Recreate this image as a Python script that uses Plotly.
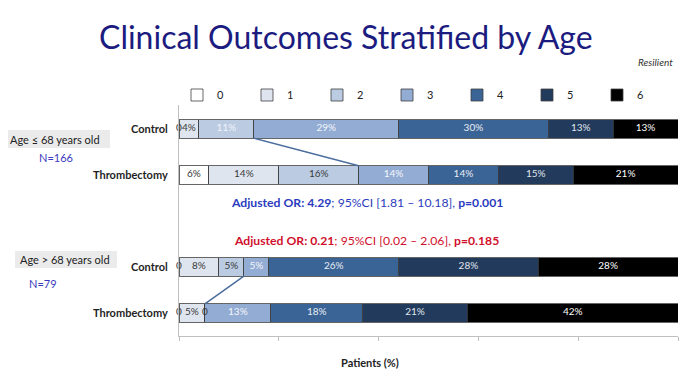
import plotly.graph_objects as go

# ---- data ----
rows = ["Control", "Thrombectomy", "Control", "Thrombectomy"]
row_pos = [0, 1, 3, 4]
mrs_levels = ["0", "1", "2", "3", "4", "5", "6"]
# percentages per mRS level, per row
ctrl_young = [0, 4, 11, 29, 30, 13, 13]
thr_young = [6, 14, 16, 14, 14, 15, 21]
ctrl_old = [0, 8, 5, 5, 26, 28, 28]
thr_old = [0, 5.2, 0, 13.2, 18.4, 21, 42.2]
labels_ctrl_young = ["0", "4%", "11%", "29%", "30%", "13%", "13%"]
labels_thr_young = ["6%", "14%", "16%", "14%", "14%", "15%", "21%"]
labels_ctrl_old = ["0", "8%", "5%", "5%", "26%", "28%", "28%"]
labels_thr_old = ["0", "5%", "0", "13%", "18%", "21%", "42%"]

data_rows = [ctrl_young, thr_young, ctrl_old, thr_old]
label_rows = [labels_ctrl_young, labels_thr_young, labels_ctrl_old, labels_thr_old]

colors = ["#ffffff", "#dfe5ef", "#bacbe2", "#93acd3", "#3b6496", "#223b5d", "#000000"]
dark_txt = "#3a3a3a"
txt_colors = [
    [dark_txt, dark_txt, "#f2f5fa", "#f5f7fb", "#e8edf5", "#e0e6ee", "#ffffff"],
    [dark_txt, dark_txt, dark_txt, "#f5f7fb", "#e8edf5", "#e0e6ee", "#ffffff"],
    [dark_txt, dark_txt, dark_txt, "#f5f7fb", "#e8edf5", "#e0e6ee", "#ffffff"],
    [dark_txt, dark_txt, dark_txt, "#f5f7fb", "#e8edf5", "#e0e6ee", "#ffffff"],
]

FONT = "Lato"
OFF = 8  # page body margin offset
PL, PR, PT, PB = 179 - OFF, 678 - OFF, 105 - OFF, 336 - OFF

fig = go.Figure()

BAR_W = 0.4
for k, lvl in enumerate(mrs_levels):
    fig.add_trace(go.Bar(
        name=lvl,
        x=[r[k] for r in data_rows],
        y=row_pos,
        orientation="h",
        width=BAR_W,
        marker=dict(color=colors[k], line=dict(color="#3f3f3f", width=0.8)),
        hoverinfo="skip",
    ))

# text labels through data coordinates (midpoints of stacked segments)
tx, ty, tt, tc = [], [], [], []
for ri, (vals, labs) in enumerate(zip(data_rows, label_rows)):
    cum = 0
    for k, v in enumerate(vals):
        tx.append(cum + v / 2)
        ty.append(row_pos[ri])
        tt.append(labs[k])
        tc.append(txt_colors[ri][k])
        cum += v
fig.add_trace(go.Scatter(
    x=tx, y=ty, text=tt, mode="text",
    textfont=dict(family=FONT, size=10, color=tc),
    showlegend=False, hoverinfo="skip", cliponaxis=False,
))

# series lines (cumulative mRS 0-2)
def cum_upto(vals, k):
    return sum(vals[:k + 1])

for a, b, ya, yb in [(ctrl_young, thr_young, 0, 1), (ctrl_old, thr_old, 3, 4)]:
    fig.add_trace(go.Scatter(
        x=[cum_upto(a, 2), cum_upto(b, 2)],
        y=[ya + BAR_W / 2, yb - BAR_W / 2],
        mode="lines", line=dict(color="#4a6c9e", width=1.5),
        showlegend=False, hoverinfo="skip",
    ))


def px_to_paper(x, y):
    """screen pixel (as photographed) -> paper coords"""
    return (x - OFF - PL) / (PR - PL), (PB - (y - OFF)) / (PB - PT)


lx, ly = px_to_paper(177, 95)

fig.update_layout(
    barmode="stack",
    width=692, height=387,
    margin=dict(l=PL, r=692 - PR, t=PT, b=387 - PB, autoexpand=False),
    paper_bgcolor="white", plot_bgcolor="white",
    font=dict(family=FONT, color="#222222"),
    showlegend=True,
    legend=dict(
        orientation="h", x=lx, y=ly, xanchor="left", yanchor="middle",
        entrywidth=25, entrywidthmode="pixels",
        font=dict(size=11, color="#222"), itemwidth=30,
        traceorder="normal", bgcolor="rgba(0,0,0,0)",
    ),
    xaxis=dict(
        range=[0, 100], dtick=20, showticklabels=False, showgrid=False,
        zeroline=False, showline=True, linecolor="#c0c0c0", linewidth=1,
        ticks="outside", ticklen=4, tickcolor="#c0c0c0",
    ),
    yaxis=dict(
        range=[4.5, -0.52], tickvals=row_pos,
        ticktext=["<b>%s</b>" % r for r in rows],
        showgrid=False, zeroline=False, showline=True, linecolor="#c0c0c0",
        ticks="", ticklabelstandoff=8, tickfont=dict(size=11, color="#1f1f1f"),
    ),
)

anns = [
    dict(text="Clinical Outcomes Stratified by Age", x=346, y=36, size=32, color="#1c1c80"),
    dict(text="<b>Patients (%)</b>", x=370, y=362, size=11, color="#222"),
    dict(text="<b>Adjusted OR: 4.29</b>; 95%CI [1.81 – 10.18], <b>p=0.001</b>",
         x=367, y=202, size=12.2, color="#2b3cc0"),
    dict(text="<b>Adjusted OR: 0.21</b>; 95%CI [0.02 – 2.06], <b>p=0.185</b>",
         x=366, y=240, size=12.2, color="#d0102c"),
    dict(text="N=166", x=56, y=157, size=11, color="#3a3ac0"),
    dict(text="N=79", x=43, y=283, size=11, color="#3a3ac0"),
    dict(text="<i>Resilient</i>", x=655, y=62, size=10, color="#333"),
]
for a in anns:
    px, py = px_to_paper(a["x"], a["y"])
    fig.add_annotation(
        text=a["text"], x=px, y=py, xref="paper", yref="paper",
        xanchor="center", yanchor="middle", showarrow=False,
        font=dict(family=FONT, size=a["size"], color=a["color"]),
    )

# grey boxes with age labels
for txt, x0, x1, y0, y1 in [("Age ≤ 68 years old", 5, 110, 130, 148),
                            ("Age > 68 years old", 15, 117, 251, 268)]:
    px0, py0 = px_to_paper(x0, y1)
    px1, py1 = px_to_paper(x1, y0)
    fig.add_shape(type="rect", xref="paper", yref="paper", x0=px0, x1=px1, y0=py0, y1=py1,
                  fillcolor="#ebebeb", line=dict(width=0), layer="below")
    fig.add_annotation(text=txt, x=px_to_paper(x0 + 3, 0)[0], y=(py0 + py1) / 2,
                       xref="paper", yref="paper", xanchor="left", yanchor="middle",
                       showarrow=False, font=dict(family=FONT, size=11, color="#222"))

fig.write_html("out.html")
